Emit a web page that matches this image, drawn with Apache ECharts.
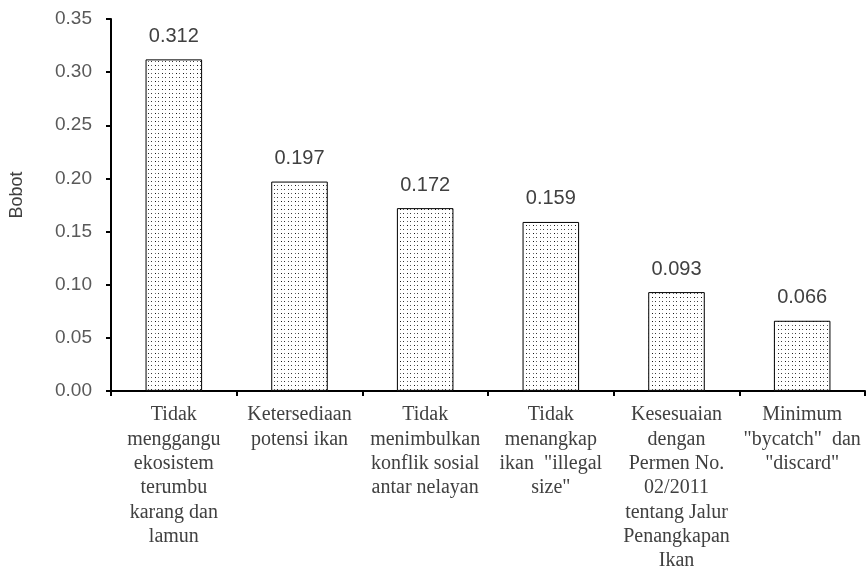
<!DOCTYPE html>
<html>
<head>
<meta charset="utf-8">
<script src="https://cdn.jsdelivr.net/npm/echarts@6/dist/echarts.min.js"></script>
<style>
html,body{margin:0;padding:0;background:#fff;}
#chart{width:866px;height:573px;}
</style>
</head>
<body>
<div id="chart"></div>
<script>
const categories = [
  "Tidak\nmenggangu\nekosistem\nterumbu\nkarang dan\nlamun",
  "Ketersediaan\npotensi ikan",
  "Tidak\nmenimbulkan\nkonflik sosial\nantar nelayan",
  "Tidak\nmenangkap\nikan  \"illegal\nsize\"",
  "Kesesuaian\ndengan\nPermen No.\n02/2011\ntentang Jalur\nPenangkapan\nIkan",
  "Minimum\n\"bycatch\"  dan\n\"discard\""
];
const bobot = [0.312, 0.197, 0.172, 0.159, 0.093, 0.066];
const yTicks = { min: 0, max: 0.35, interval: 0.05 };

function dotPattern() {
  const c = document.createElement('canvas');
  c.width = 7; c.height = 8;
  const ctx = c.getContext('2d');
  ctx.fillStyle = '#fff';
  ctx.fillRect(0, 0, 7, 8);
  ctx.fillStyle = '#111';
  ctx.fillRect(1, 1, 1, 1);
  ctx.fillStyle = '#333';
  ctx.fillRect(4, 5, 1, 1);
  ctx.fillStyle = '#666';
  ctx.fillRect(1, 5, 1, 1);
  ctx.fillRect(4, 1, 1, 1);
  return c;
}

const chart = echarts.init(document.getElementById('chart'), null, { renderer: 'canvas' });
chart.setOption({
  animation: false,
  backgroundColor: '#fff',
  grid: { left: 102, right: 1, top: 19, bottom: 177, containLabel: false },
  xAxis: {
    type: 'category',
    data: categories,
    boundaryGap: true,
    axisLine: { lineStyle: { color: '#000', width: 2 } },
    axisTick: { show: true, length: 5, alignWithLabel: false, lineStyle: { color: '#000', width: 2 } },
    axisLabel: {
      interval: 0,
      margin: 12,
      color: '#404040',
      fontFamily: 'Liberation Serif',
      fontSize: 20,
      lineHeight: 24.3,
      align: 'center'
    }
  },
  yAxis: {
    type: 'value',
    min: yTicks.min,
    max: yTicks.max,
    interval: yTicks.interval,
    name: 'Bobot',
    nameLocation: 'middle',
    nameGap: 85,
    nameRotate: 90,
    nameTextStyle: { color: '#404040', fontFamily: 'Liberation Sans', fontSize: 18, padding: [0, 0, 0, 20] },
    splitLine: { show: false },
    axisLine: { show: true, lineStyle: { color: '#000', width: 2 } },
    axisTick: { show: true, length: 5, lineStyle: { color: '#000', width: 2 } },
    axisLabel: {
      margin: 19,
      color: '#595959',
      fontFamily: 'Liberation Sans',
      fontSize: 19,
      formatter: v => v.toFixed(2)
    }
  },
  series: [{
    type: 'bar',
    data: bobot,
    barWidth: '45%',
    itemStyle: {
      color: { image: dotPattern(), repeat: 'repeat' },
      borderColor: '#000',
      borderWidth: 1
    },
    label: {
      show: true,
      position: 'top',
      distance: 13,
      color: '#404040',
      fontFamily: 'Liberation Sans',
      fontSize: 20,
      formatter: p => p.value.toFixed(3)
    }
  }]
});
</script>
</body>
</html>
